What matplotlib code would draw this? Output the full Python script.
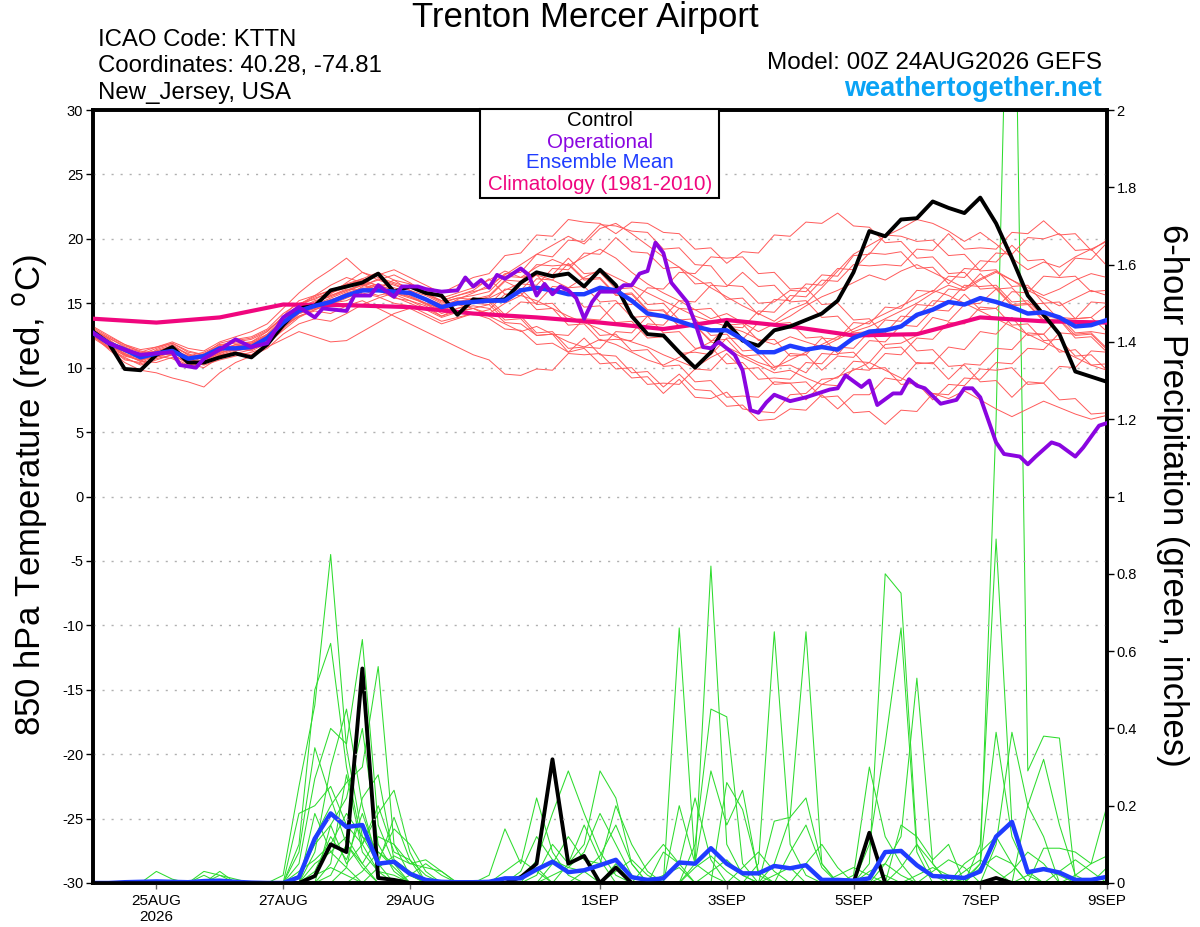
import numpy as np
import matplotlib
matplotlib.use("Agg")
import matplotlib.pyplot as plt
from matplotlib.patches import Rectangle
from matplotlib.ticker import FuncFormatter

plt.rcParams['font.family'] = ['Liberation Sans', 'DejaVu Sans']
plt.rcParams['axes.unicode_minus'] = False

# ---------------- data ----------------
hours = np.arange(0, 385, 6)  # 6-hourly from 00Z 24AUG2026

control_temp = [12.8, 11.9, 9.9, 9.8, 11.0, 11.6, 10.4, 10.4, 10.8, 11.1, 10.8, 11.8, 13.3,
                14.6, 14.8, 16.0, 16.3, 16.6, 17.3, 15.9, 16.3, 15.8, 15.6, 14.1, 15.3,
                15.2, 15.3, 16.6, 17.4, 17.1, 17.3, 16.3, 17.6, 16.4, 14.0, 12.6, 12.5,
                11.2, 10.0, 11.2, 13.5, 12.1, 11.7, 12.9, 13.2, 13.7, 14.2, 15.2, 17.4,
                20.6, 20.2, 21.5, 21.6, 22.9, 22.4, 22.0, 23.2, 21.2, 18.5, 15.6, 14.1, 12.6, 9.7, 9.3, 8.9]

mean_temp = [12.7, 11.9, 11.4, 10.8, 11.1, 11.3, 10.7, 10.9, 11.5, 11.5, 11.6, 12.3, 13.5,
             14.4, 14.8, 15.1, 15.6, 16.0, 16.0, 15.9, 15.8, 15.3, 14.7, 15.0, 15.1,
             15.2, 15.2, 16.0, 16.2, 16.0, 15.7, 15.7, 16.2, 16.0, 15.2, 14.2, 14.0,
             13.6, 13.2, 12.9, 12.9, 12.2, 11.2, 11.2, 11.7, 11.4, 11.6, 11.4, 12.3,
             12.8, 12.9, 13.2, 14.1, 14.5, 15.1, 14.9, 15.4, 15.1, 14.7, 14.2, 14.3, 13.9, 13.2, 13.3, 13.7]

op_hours = [0, 6, 12, 18, 24, 30, 33, 39, 42, 48, 54, 60, 66, 72, 78, 84, 87, 96, 99, 105,
            108, 114, 117, 123, 126, 132, 138, 141, 144, 147, 150, 153, 156, 162, 165, 168,
            171, 174, 177, 180, 183, 186, 189, 192, 198, 201, 204, 207, 210, 213, 216, 219,
            225, 228, 231, 234, 237, 243, 246, 249, 252, 255, 258, 264, 270, 273, 279, 282,
            285, 291, 294, 297, 303, 306, 309, 312, 315, 321, 327, 330, 333, 336, 342, 345,
            351, 354, 357, 363, 366, 372, 375, 381, 384]
op_temp = [12.7, 11.9, 11.4, 11.0, 11.1, 11.2, 10.2, 10.0, 10.7, 11.4, 12.2, 11.6, 11.9, 13.9,
           14.7, 13.9, 14.6, 14.4, 15.6, 15.6, 16.4, 15.5, 16.3, 16.3, 16.1, 15.9, 16.0, 17.0,
           16.3, 16.8, 16.2, 17.2, 16.9, 17.7, 17.2, 15.6, 16.5, 15.7, 16.3, 16.0, 15.4, 13.8,
           15.1, 15.9, 15.9, 16.4, 16.4, 17.3, 17.5, 19.7, 18.9, 16.6, 15.1, 13.5, 11.6, 11.5,
           12.0, 11.0, 9.8, 6.7, 6.5, 7.3, 7.9, 7.4, 7.7, 7.9, 8.3, 8.4, 9.4, 8.5, 9.0, 7.1,
           8.0, 8.0, 9.1, 8.6, 8.4, 7.2, 7.5, 8.4, 8.4, 7.7, 4.2, 3.3, 3.1, 2.5, 3.1, 4.2,
           4.0, 3.1, 3.8, 5.5, 5.7]

clim_hours = np.arange(0, 385, 24)
clim_temp = [13.8, 13.5, 13.9, 14.9, 14.85, 14.7, 14.2, 13.9, 13.5, 13.0, 13.7, 13.2, 12.5,
             12.6, 13.9, 13.6, 13.5]

member_temps = [
    [12.9, 12.2, 11.0, 10.5, 11.4, 11.8, 11.0, 10.6, 11.2, 11.8, 12.0, 12.6, 13.8,
     14.9, 15.6, 16.4, 17.0, 16.6, 16.2, 16.8, 16.0, 15.2, 14.6, 15.3, 15.8,
     16.4, 17.2, 18.0, 18.8, 19.5, 20.2, 19.6, 20.8, 21.2, 20.4, 19.5, 18.6,
     17.8, 17.0, 16.2, 15.5, 14.8, 14.2, 13.6, 14.5, 15.0, 16.2, 17.5, 18.8,
     19.5, 20.2, 20.8, 21.5, 21.2, 20.6, 19.8, 20.5, 19.6, 18.5, 17.6, 18.2, 17.8, 18.6, 19.2, 19.8],
    [12.6, 11.5, 10.8, 10.2, 10.6, 11.0, 10.3, 10.0, 10.8, 11.2, 11.0, 11.8, 13.0,
     14.2, 14.6, 15.0, 15.2, 15.8, 15.5, 15.0, 14.8, 14.2, 13.6, 13.9, 14.2,
     13.8, 13.0, 12.9, 11.8, 11.9, 11.2, 11.5, 10.3, 10.4, 9.2, 9.3, 8.0,
     9.1, 7.7, 7.6, 8.1, 6.8, 6.6, 6.5, 7.9, 8.0, 9.1, 9.2, 10.5,
     10.4, 11.8, 11.9, 12.5, 13.9, 13.6, 14.9, 15.0, 16.1, 14.8, 14.9, 13.6, 13.7, 12.3, 12.4, 11.2],
    [13.0, 12.3, 11.6, 11.0, 11.5, 11.9, 11.2, 11.0, 11.9, 12.2, 12.4, 13.0, 14.2,
     15.0, 15.3, 15.9, 16.4, 16.9, 17.4, 16.8, 16.5, 16.1, 15.4, 15.8, 16.2,
     16.8, 17.5, 17.0, 17.8, 18.4, 17.9, 18.6, 19.2, 18.5, 17.4, 16.5, 15.8,
     15.2, 14.5, 13.8, 14.2, 13.5, 12.8, 13.4, 14.0, 14.8, 15.5, 16.0, 16.6,
     17.2, 16.8, 17.5, 18.0, 17.4, 16.8, 16.2, 16.9, 17.5, 16.8, 16.2, 15.6, 16.1, 16.8, 17.3, 17.0],
    [12.4, 11.6, 10.6, 10.4, 10.9, 10.7, 10.1, 10.4, 11.0, 11.1, 11.4, 12.0, 13.2,
     14.0, 14.5, 14.9, 15.4, 15.9, 16.2, 15.7, 15.2, 14.8, 14.0, 14.4, 14.6,
     14.2, 15.0, 15.6, 15.2, 14.6, 14.0, 13.5, 13.0, 12.4, 12.0, 11.6, 11.0,
     10.5, 10.0, 10.8, 11.4, 10.8, 10.2, 9.6, 9.8, 9.2, 8.7, 9.3, 9.8,
     10.4, 9.8, 9.2, 8.6, 8.0, 7.6, 8.2, 7.5, 6.8, 6.2, 6.8, 7.4, 6.9, 6.4, 6.0, 6.3],
    [12.8, 12.0, 11.2, 10.9, 11.3, 11.6, 10.8, 11.1, 11.7, 11.6, 11.9, 12.5, 13.6,
     14.6, 15.2, 15.5, 16.0, 16.5, 16.0, 15.6, 15.9, 15.4, 14.9, 15.2, 15.0,
     15.4, 16.0, 16.6, 17.2, 16.8, 16.2, 17.0, 17.6, 17.0, 16.4, 15.8, 15.2,
     14.6, 14.0, 13.6, 13.2, 12.8, 12.2, 11.8, 12.4, 12.0, 11.6, 12.2, 12.8,
     13.2, 13.8, 14.4, 15.0, 15.8, 16.4, 16.0, 16.8, 17.4, 16.8, 16.0, 15.4, 14.8, 15.4, 16.0, 15.6],
    [12.7, 11.8, 10.9, 10.6, 11.0, 11.4, 10.9, 10.7, 11.4, 11.8, 11.7, 12.4, 13.4,
     14.3, 14.9, 15.2, 15.8, 16.2, 16.0, 15.4, 15.2, 14.6, 14.0, 14.6, 14.8,
     14.6, 13.5, 13.4, 12.5, 12.6, 11.2, 12.3, 11.0, 10.9, 9.6, 9.7, 8.5,
     9.5, 8.3, 8.2, 7.0, 7.1, 5.9, 6.0, 6.8, 6.7, 7.9, 6.8, 7.9,
     7.9, 9.2, 9.0, 10.4, 10.3, 11.6, 11.4, 12.8, 12.6, 13.9, 12.5, 12.6, 11.2, 11.4, 10.2, 10.3],
    [13.1, 12.4, 11.8, 11.2, 11.6, 12.0, 11.5, 11.3, 12.0, 12.4, 12.8, 13.4, 14.6,
     15.8, 16.8, 17.6, 18.5, 17.4, 16.8, 17.2, 16.6, 15.8, 15.2, 15.6, 15.9,
     16.2, 17.3, 17.4, 18.8, 18.6, 19.9, 19.8, 21.1, 21.0, 20.6, 20.5, 19.2,
     19.3, 18.0, 17.9, 16.4, 16.3, 15.0, 15.1, 16.0, 15.9, 17.2, 17.1, 18.7,
     18.8, 20.3, 20.2, 19.8, 19.9, 18.7, 18.8, 17.5, 17.6, 16.3, 16.4, 15.0, 15.1, 13.8, 13.9, 12.8],
    [12.5, 11.4, 10.4, 9.8, 9.6, 9.2, 8.9, 8.5, 9.6, 10.4, 10.9, 11.5, 12.6,
     13.4, 13.8, 13.6, 14.2, 14.9, 15.4, 15.8, 15.5, 15.0, 14.5, 14.9, 14.6,
     14.0, 13.4, 12.8, 13.2, 12.6, 12.0, 11.6, 12.2, 11.8, 11.2, 10.6, 10.2,
     10.8, 11.4, 12.0, 11.6, 11.0, 10.4, 10.0, 10.6, 11.2, 11.8, 12.4, 13.0,
     13.6, 14.2, 14.8, 15.4, 16.0, 15.6, 15.0, 14.4, 13.8, 13.2, 12.6, 12.0, 11.4, 10.8, 10.2, 9.8],
    [12.6, 11.7, 11.1, 10.7, 10.8, 11.2, 10.5, 10.2, 10.6, 10.9, 11.2, 11.6, 12.2,
     12.8, 12.4, 12.0, 12.1, 12.8, 13.5, 14.2, 14.6, 14.0, 13.4, 13.8, 14.2,
     14.5, 15.7, 15.6, 16.9, 16.8, 18.1, 16.9, 17.0, 15.7, 15.8, 14.5, 14.4,
     13.2, 13.3, 12.1, 12.2, 10.9, 11.0, 9.8, 11.1, 11.0, 12.3, 12.2, 13.5,
     13.4, 14.7, 14.6, 16.0, 15.9, 17.1, 17.0, 18.3, 18.2, 19.5, 18.3, 18.4, 17.1, 18.5, 18.4, 19.7],
    [12.9, 12.1, 11.3, 10.8, 11.2, 11.5, 10.8, 10.9, 11.6, 12.0, 12.2, 12.8, 14.0,
     15.2, 15.6, 16.0, 16.4, 16.8, 17.2, 17.6, 17.0, 16.4, 15.8, 16.4, 17.0,
     17.3, 18.7, 18.9, 20.3, 20.2, 21.5, 21.3, 21.2, 20.4, 21.3, 21.2, 20.5,
     20.4, 19.2, 19.3, 18.1, 19.0, 18.9, 20.3, 20.2, 21.3, 21.2, 22.0, 21.0,
     20.9, 19.7, 19.8, 18.5, 18.6, 17.3, 17.4, 16.1, 16.2, 14.9, 15.0, 13.7, 13.8, 12.5, 12.6, 11.4],
    [12.5, 11.6, 10.7, 10.3, 10.7, 11.0, 10.4, 10.6, 11.2, 11.4, 11.5, 12.1, 13.1,
     14.0, 14.4, 14.2, 14.8, 15.2, 14.6, 14.0, 13.4, 12.8, 12.2, 11.6, 11.0,
     10.6, 9.5, 9.4, 9.9, 9.8, 11.1, 11.0, 11.1, 9.9, 10.0, 8.7, 8.8,
     8.7, 9.9, 9.8, 11.1, 9.9, 10.0, 8.7, 8.8, 7.5, 8.7, 8.6, 9.9,
     9.8, 11.1, 11.0, 12.3, 12.2, 13.5, 13.4, 14.7, 14.6, 15.9, 15.8, 17.1, 17.0, 17.1, 15.9, 16.0],
    [12.8, 12.1, 11.4, 10.9, 11.0, 11.4, 10.6, 10.9, 11.5, 11.3, 11.6, 12.2, 13.3,
     14.4, 14.9, 15.4, 15.9, 16.4, 16.8, 16.4, 16.0, 15.6, 15.0, 15.4, 15.6,
     15.9, 17.1, 17.0, 17.2, 15.9, 16.0, 14.7, 14.8, 13.5, 13.6, 12.3, 12.4,
     11.1, 11.2, 11.0, 12.3, 12.2, 13.5, 13.4, 13.5, 12.3, 12.4, 11.1, 11.2,
     9.9, 10.0, 8.7, 8.8, 7.5, 8.7, 8.6, 9.9, 9.8, 10.0, 8.7, 8.8, 7.5, 7.6, 6.4, 6.5],
    [12.7, 12.0, 11.5, 11.1, 11.3, 11.7, 11.0, 10.8, 11.3, 11.7, 11.8, 12.6, 13.7,
     14.7, 15.0, 15.6, 16.1, 16.0, 15.6, 15.9, 16.3, 15.7, 15.1, 15.4, 15.3,
     15.3, 15.2, 16.5, 16.4, 17.7, 17.6, 18.9, 18.8, 20.1, 19.0, 18.9, 17.7,
     17.8, 16.5, 16.6, 15.3, 15.4, 14.1, 15.3, 15.2, 16.5, 16.4, 17.7, 17.6,
     18.9, 18.8, 19.0, 17.7, 17.8, 16.5, 17.7, 17.6, 18.9, 18.8, 20.1, 20.0, 20.4, 19.1, 19.2, 17.9],
    [12.3, 11.5, 11.0, 10.6, 10.9, 11.1, 10.7, 10.3, 10.9, 11.3, 11.5, 12.2, 13.5,
     14.5, 14.8, 15.3, 15.6, 16.1, 16.5, 16.2, 15.8, 15.2, 14.8, 15.0, 15.4,
     15.3, 14.1, 15.1, 15.0, 16.3, 16.2, 16.3, 15.1, 15.2, 13.9, 14.0, 12.7,
     12.8, 11.5, 11.6, 10.3, 10.4, 9.1, 9.2, 9.1, 10.4, 10.3, 11.6, 11.5,
     12.8, 12.7, 14.0, 13.9, 15.2, 15.1, 16.4, 16.3, 16.4, 15.1, 15.2, 13.9, 14.0, 12.7, 12.8, 12.6],
    [12.9, 12.2, 11.3, 10.8, 11.2, 11.0, 10.4, 10.8, 11.4, 11.6, 11.4, 12.0, 13.2,
     14.2, 14.6, 15.1, 15.5, 16.0, 16.4, 16.0, 15.6, 15.0, 14.6, 15.0, 15.2,
     15.5, 16.7, 16.1, 14.9, 15.0, 13.7, 13.8, 12.5, 12.6, 11.3, 11.4, 10.1,
     10.2, 8.9, 9.0, 7.7, 7.8, 7.7, 8.9, 8.8, 8.9, 7.7, 7.8, 6.5,
     6.6, 5.6, 6.7, 6.6, 8.0, 7.9, 9.2, 9.1, 10.4, 10.3, 11.5, 11.4, 12.7, 12.6, 12.7, 11.5],
    [12.6, 11.9, 11.6, 11.2, 11.0, 11.3, 10.9, 11.2, 11.8, 11.9, 12.0, 12.8, 13.9,
     14.8, 15.4, 15.8, 16.2, 16.7, 16.4, 16.0, 15.5, 14.9, 14.4, 14.9, 15.3,
     15.6, 16.8, 16.7, 18.0, 17.9, 18.0, 16.8, 16.9, 15.6, 15.7, 14.4, 14.5,
     13.2, 13.3, 12.0, 13.2, 13.1, 14.4, 14.3, 15.6, 15.5, 16.8, 16.7, 18.0,
     17.9, 18.0, 17.9, 19.2, 19.1, 20.4, 19.2, 19.3, 19.2, 20.5, 20.4, 21.4, 20.3, 20.4, 19.1, 19.9],
    [13.2, 12.5, 11.8, 11.4, 11.6, 11.9, 11.3, 11.0, 11.7, 12.1, 12.3, 12.9, 13.9,
     14.6, 15.1, 15.7, 16.6, 17.4, 17.0, 16.6, 16.2, 15.7, 15.2, 15.6, 16.0,
     16.9, 15.7, 15.8, 14.5, 14.6, 13.3, 13.4, 12.1, 12.2, 12.1, 13.4, 13.3,
     14.6, 14.5, 14.6, 13.3, 13.4, 12.1, 12.2, 10.9, 11.0, 9.8, 10.9, 10.8,
     12.1, 12.0, 13.3, 13.2, 14.5, 14.4, 15.7, 14.5, 14.6, 13.3, 13.4, 12.1, 12.2, 10.9, 11.0, 9.8],
    [12.4, 11.8, 11.1, 10.5, 10.4, 10.8, 10.2, 10.5, 11.1, 11.5, 11.3, 11.9, 12.9,
     13.9, 14.5, 15.0, 15.5, 16.3, 16.9, 16.5, 16.0, 15.3, 14.7, 15.1, 15.4,
     15.1, 13.9, 14.0, 12.7, 12.8, 11.5, 11.6, 11.5, 12.8, 12.7, 14.0, 13.9,
     15.2, 15.1, 16.4, 16.3, 17.4, 16.3, 16.4, 15.1, 15.2, 13.9, 14.0, 12.7,
     12.8, 11.5, 11.6, 10.3, 10.4, 9.1, 10.3, 10.2, 11.5, 11.4, 12.7, 12.6, 13.9, 13.8, 15.1, 15.0],
    [12.7, 11.9, 11.0, 10.5, 11.0, 11.3, 10.6, 10.3, 11.0, 11.4, 11.8, 12.4, 13.4,
     14.5, 15.0, 15.6, 16.0, 16.4, 16.0, 15.5, 15.0, 14.5, 13.9, 14.3, 14.6,
     14.9, 16.1, 16.0, 17.3, 17.2, 18.5, 17.3, 17.4, 16.1, 16.2, 14.9, 15.0,
     13.7, 13.8, 12.5, 12.6, 11.3, 11.4, 10.1, 10.2, 9.6, 11.1, 11.0, 12.5,
     12.4, 13.7, 13.6, 14.9, 14.8, 16.1, 16.0, 17.3, 16.1, 16.2, 14.9, 15.0, 13.7, 13.8, 13.9, 14.9],
    [12.9, 12.3, 11.7, 11.3, 11.1, 11.6, 11.1, 10.6, 11.1, 11.6, 11.9, 12.5, 13.7,
     14.9, 15.5, 16.0, 16.5, 16.9, 16.3, 15.8, 15.4, 15.0, 14.2, 14.6, 15.0,
     14.9, 13.7, 13.8, 12.5, 12.6, 12.5, 13.8, 13.7, 15.0, 14.9, 16.2, 16.1,
     17.4, 17.3, 18.6, 18.5, 18.6, 17.3, 17.4, 16.1, 16.2, 14.9, 15.0, 13.7,
     13.8, 12.5, 12.6, 11.3, 11.4, 10.1, 10.2, 8.9, 9.0, 7.7, 8.9, 8.8, 10.1, 10.0, 11.3, 11.2],
]

control_precip = [0, 0, 0, 0, 0, 0, 0, 0, 0, 0, 0, 0, 0,
                  0.0, 0.018, 0.10, 0.08, 0.555, 0.013, 0.008, 0, 0, 0, 0, 0,
                  0, 0, 0.015, 0.05, 0.32, 0.05, 0.07, 0, 0.04, 0, 0, 0,
                  0, 0, 0, 0, 0, 0, 0, 0, 0, 0, 0, 0,
                  0.13, 0, 0, 0, 0, 0, 0, 0, 0.013, 0, 0, 0, 0, 0, 0, 0]

mean_precip = [0.0, 0.0, 0.002, 0.003, 0.004, 0.003, 0.002, 0.005, 0.006, 0.003, 0.001, 0.0, 0.0,
               0.015, 0.115, 0.18, 0.145, 0.15, 0.05, 0.055, 0.024, 0.008, 0.003, 0.002, 0.002,
               0.003, 0.012, 0.012, 0.035, 0.055, 0.028, 0.033, 0.046, 0.06, 0.015, 0.008, 0.012,
               0.053, 0.05, 0.09, 0.05, 0.025, 0.025, 0.044, 0.038, 0.046, 0.008, 0.008, 0.006,
               0.012, 0.08, 0.083, 0.046, 0.018, 0.016, 0.013, 0.03, 0.12, 0.158, 0.028, 0.036,
               0.027, 0.008, 0.008, 0.016]

# member precipitation readings: {6-hour step: inches}, zero elsewhere
member_precip = [
    {4: 0.03, 5: 0.01, 12: 0.02, 13: 0.25, 14: 0.46, 15: 0.85, 16: 0.35, 17: 0.12, 18: 0.05,
     29: 0.05, 30: 0.12, 31: 0.06, 32: 0.05, 33: 0.20, 34: 0.10, 35: 0.03, 50: 0.02},
    {8: 0.03, 13: 0.10, 14: 0.50, 15: 0.62, 16: 0.30, 17: 0.10, 18: 0.03,
     37: 0.66, 38: 0.05, 39: 0.02, 56: 0.05, 57: 0.39, 58: 0.12, 59: 0.03},
    {13: 0.05, 14: 0.27, 15: 0.40, 16: 0.36, 17: 0.63, 18: 0.15, 19: 0.05,
     28: 0.06, 29: 0.18, 30: 0.29, 31: 0.18, 32: 0.08, 33: 0.02,
     49: 0.05, 50: 0.80, 51: 0.75, 52: 0.10, 53: 0.02},
    {14: 0.12, 15: 0.20, 16: 0.26, 17: 0.30, 18: 0.56, 19: 0.10, 20: 0.02,
     38: 0.05, 39: 0.82, 40: 0.10, 41: 0.02,
     55: 0.01, 56: 0.05, 57: 1.2, 58: 2.9, 59: 0.29, 60: 0.38, 61: 0.375, 62: 0.01},
    {13: 0.18, 14: 0.20, 15: 0.25, 16: 0.15, 17: 0.10, 18: 0.18, 19: 0.24, 20: 0.08,
     30: 0.05, 31: 0.10, 32: 0.29, 33: 0.22, 34: 0.05, 43: 0.05, 44: 0.17, 45: 0.65, 46: 0.05},
    {7: 0.02, 14: 0.08, 15: 0.30, 16: 0.45, 17: 0.20, 18: 0.05, 19: 0.17, 20: 0.06, 21: 0.02,
     38: 0.10, 39: 0.45, 40: 0.43, 41: 0.05, 49: 0.10, 50: 0.36, 51: 0.66, 52: 0.08},
    {13: 0.02, 14: 0.10, 15: 0.15, 16: 0.22, 17: 0.40, 18: 0.10, 19: 0.03,
     25: 0.02, 26: 0.14, 27: 0.05, 28: 0.22, 29: 0.08, 30: 0.02,
     42: 0.05, 43: 0.65, 44: 0.10, 45: 0.02, 56: 0.10, 57: 0.89, 58: 0.15, 59: 0.02},
    {14: 0.18, 15: 0.08, 16: 0.12, 17: 0.05, 18: 0.12, 19: 0.10, 20: 0.05, 21: 0.04, 22: 0.03,
     37: 0.20, 38: 0.05, 39: 0.29, 40: 0.15, 41: 0.24, 42: 0.02,
     50: 0.05, 51: 0.12, 52: 0.53, 53: 0.05},
    {15: 0.05, 16: 0.28, 17: 0.08, 18: 0.03, 19: 0.02,
     27: 0.03, 28: 0.12, 29: 0.06, 30: 0.04, 31: 0.08, 32: 0.18, 33: 0.10, 34: 0.02,
     40: 0.26, 41: 0.19, 42: 0.03, 57: 0.10, 58: 0.39, 59: 0.20, 60: 0.12},
    {14: 0.03, 15: 0.12, 16: 0.06, 17: 0.18, 18: 0.06, 19: 0.14, 20: 0.10, 21: 0.03,
     43: 0.16, 44: 0.17, 45: 0.22, 46: 0.05, 51: 0.15, 52: 0.12, 53: 0.06, 54: 0.10,
     60: 0.09, 61: 0.09, 62: 0.08, 63: 0.05, 64: 0.20},
    {13: 0.08, 14: 0.35, 15: 0.22, 16: 0.10, 17: 0.04, 33: 0.05,
     36: 0.08, 37: 0.05, 38: 0.22, 39: 0.06, 48: 0.02, 49: 0.30, 50: 0.12, 51: 0.05,
     59: 0.20, 60: 0.32, 61: 0.15, 62: 0.02},
    {15: 0.15, 16: 0.05, 17: 0.10, 18: 0.20, 19: 0.08, 20: 0.06,
     28: 0.02, 29: 0.10, 30: 0.05, 31: 0.15, 32: 0.06, 44: 0.08, 45: 0.15, 46: 0.04,
     53: 0.03, 54: 0.06, 55: 0.04, 62: 0.02, 63: 0.05, 64: 0.07},
    {13: 0.03, 14: 0.06, 15: 0.10, 16: 0.18, 17: 0.12, 18: 0.08, 19: 0.04,
     35: 0.05, 36: 0.10, 37: 0.05, 41: 0.04, 42: 0.08, 43: 0.03,
     51: 0.04, 52: 0.10, 53: 0.05, 55: 0.05, 56: 0.08, 57: 0.12, 58: 0.05},
    {16: 0.04, 17: 0.22, 18: 0.28, 19: 0.06, 20: 0.03, 31: 0.03, 32: 0.07, 33: 0.15, 34: 0.05,
     45: 0.05, 46: 0.10, 47: 0.04, 58: 0.03, 59: 0.08, 60: 0.05},
    {8: 0.02, 9: 0.01, 14: 0.05, 15: 0.08, 16: 0.04, 18: 0.04, 19: 0.07, 20: 0.05, 21: 0.06,
     22: 0.03, 26: 0.03, 27: 0.06, 28: 0.03, 38: 0.04, 39: 0.07, 40: 0.03,
     49: 0.03, 50: 0.05, 51: 0.02, 61: 0.03, 62: 0.06, 63: 0.03},
    {15: 0.02, 16: 0.10, 17: 0.05, 29: 0.02, 30: 0.04, 31: 0.03, 36: 0.02, 37: 0.04,
     47: 0.02, 48: 0.04, 49: 0.02, 56: 0.04, 57: 0.07, 58: 0.05, 64: 0.04},
    {14: 0.02, 15: 0.04, 16: 0.02, 20: 0.02, 21: 0.05, 22: 0.02, 33: 0.03, 34: 0.06, 35: 0.02,
     43: 0.02, 44: 0.04, 52: 0.02, 53: 0.04, 54: 0.02, 59: 0.02, 60: 0.04, 61: 0.02},
    {7: 0.03, 8: 0.02, 17: 0.03, 18: 0.08, 19: 0.05, 20: 0.02, 27: 0.02, 28: 0.04,
     39: 0.03, 40: 0.06, 41: 0.02, 55: 0.03, 56: 0.06, 57: 0.03},
]

xtick_hours = [24, 72, 120, 192, 240, 288, 336, 384]
xtick_labels = ['25AUG\n2026', '27AUG', '29AUG', '1SEP', '3SEP', '5SEP', '7SEP', '9SEP']
temp_ticks = list(range(-30, 31, 5))
precip_ticks = [0, 0.2, 0.4, 0.6, 0.8, 1.0, 1.2, 1.4, 1.6, 1.8, 2.0]

# ---------------- figure ----------------
W, H = 1200, 927
fig = plt.figure(figsize=(W / 100, H / 100), dpi=100)
ax = fig.add_axes([93 / W, (H - 883) / H, (1107 - 93) / W, (883 - 110) / H])
ax2 = ax.twinx()
ax.set_zorder(3)
ax2.set_zorder(2)
ax.patch.set_visible(False)

# precipitation (right axis)
for m in member_precip:
    vals = np.zeros(len(hours))
    for k, v in m.items():
        vals[k] = v
    ax2.plot(hours, vals, color='#2edc2e', lw=0.75, zorder=2)
ax2.plot(hours, control_precip, color='black', lw=2.8, zorder=4)
ax2.plot(hours, mean_precip, color='#1f3cff', lw=3.2, zorder=5)
ax2.set_ylim(0, 2)
ax2.set_yticks(precip_ticks)
ax2.yaxis.set_major_formatter(FuncFormatter(lambda v, p: ('%g' % round(v, 1))))

# temperature (left axis)
for m in member_temps:
    ax.plot(hours, m, color='#ff5a5a', lw=0.7, zorder=2)
ax.plot(clim_hours, clim_temp, color='#f0067e', lw=3.0, zorder=5)
ax.plot(hours, control_temp, color='black', lw=2.8, zorder=6)
ax.plot(hours, mean_temp, color='#1f3cff', lw=3.2, zorder=7)
ax.plot(op_hours, op_temp, color='#8a05e0', lw=2.8, zorder=8)

ax.set_xlim(0, 384)
ax.set_ylim(-30, 30)
ax.set_yticks(temp_ticks)
ax.set_xticks(xtick_hours)
ax.set_xticklabels(xtick_labels)
for t in temp_ticks[1:-1]:
    ax.axhline(t, color='#b0b0b0', lw=1.0, ls=(0, (1.5, 5)), zorder=1)

for a in (ax, ax2):
    for s in a.spines.values():
        s.set_linewidth(2.6)
        s.set_color('black')
ax.tick_params(axis='y', direction='out', length=5, width=1, labelsize=10.5, pad=2)
ax.tick_params(axis='x', direction='out', length=4, width=1, labelsize=11, pad=4, color='#666666')
ax2.tick_params(axis='y', direction='out', length=5, width=1, labelsize=10.5, pad=2)

# texts
fig.text(585 / W, 1 - 18 / H, 'Trenton Mercer Airport', ha='center', va='center', fontsize=25)
fig.text(98 / W, 1 - 40 / H, 'ICAO Code: KTTN', ha='left', va='center', fontsize=17.3)
fig.text(98 / W, 1 - 66 / H, 'Coordinates: 40.28, -74.81', ha='left', va='center', fontsize=17.3)
fig.text(98 / W, 1 - 93 / H, 'New_Jersey, USA', ha='left', va='center', fontsize=17.3)
fig.text(1102 / W, 1 - 63 / H, 'Model: 00Z 24AUG2026 GEFS', ha='right', va='center', fontsize=17.5)
fig.text(1102 / W, 1 - 89 / H, 'weathertogether.net', ha='right', va='center', fontsize=19.5,
         fontweight='bold', color='#0aa3f5')

fig.text(30 / W, 1 - 495 / H, r'850 hPa Temperature (red, $^{\mathrm{o}}$C)', rotation=90,
         ha='center', va='center', fontsize=25)
fig.text(1172 / W, 1 - 495 / H, '6-hour Precipitation (green, inches)', rotation=-90,
         ha='center', va='center', fontsize=25)

# legend box
fig.add_artist(Rectangle((480 / W, 1 - 198 / H), (719 - 480) / W, (198 - 109) / H,
                         transform=fig.transFigure, facecolor='white', edgecolor='black',
                         lw=1.5, zorder=20))
leg = [('Control', 'black', 121), ('Operational', '#8a05e0', 142),
       ('Ensemble Mean', '#1f3cff', 163), ('Climatology (1981-2010)', '#f0067e', 185)]
for txt, col, y in leg:
    fig.text(600 / W, 1 - y / H, txt, ha='center', va='center', fontsize=14.8, color=col, zorder=21)

fig.savefig('out.png', dpi=100)
